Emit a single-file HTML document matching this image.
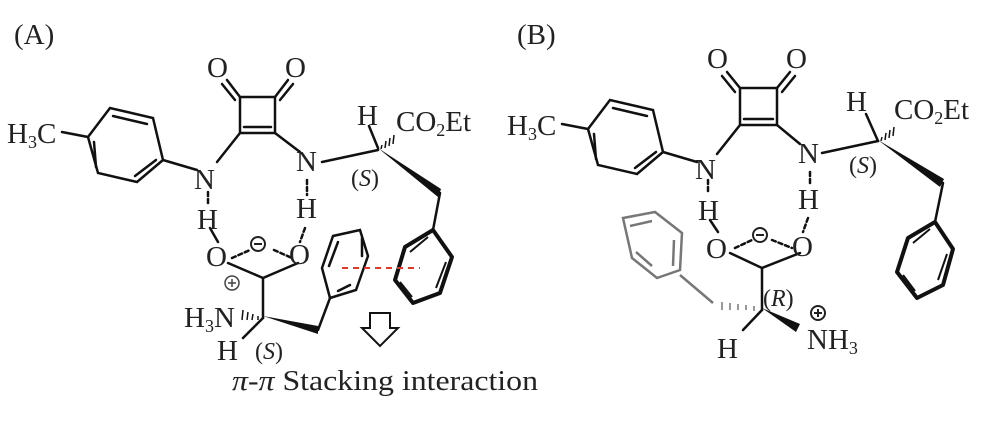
<!DOCTYPE html>
<html><head><meta charset="utf-8"><style>
html,body{margin:0;padding:0;background:#fff;}
svg{display:block;}
text{font-family:"Liberation Serif",serif;fill:#222;}
</style></head><body>
<svg width="1000" height="425" viewBox="0 0 1000 425" xmlns="http://www.w3.org/2000/svg">
<g stroke="#111" stroke-width="2.5" fill="none" stroke-linecap="round">
<path d="M240,97 L275,97 L275,133 L240,133 Z"/>
<line x1="244" y1="127" x2="271" y2="127"/>
<line x1="240" y1="97" x2="227" y2="80"/><line x1="235" y1="100" x2="222" y2="84"/>
<line x1="275" y1="97" x2="288" y2="80"/><line x1="280" y1="100" x2="293" y2="84"/>
<line x1="62" y1="132" x2="88" y2="137"/>
<path d="M88,137 L110,108 L153,118 L163,160 L137,182 L98,173 Z"/>
<line x1="113" y1="116" x2="147" y2="124"/><line x1="156" y1="160" x2="135" y2="176"/><line x1="96" y1="167" x2="94" y2="142"/>
<line x1="163" y1="160" x2="197" y2="170"/>
<line x1="217" y1="162" x2="240" y2="133"/>
<line x1="275" y1="133" x2="300" y2="152"/>
<line x1="322" y1="162" x2="378" y2="150"/>
<line x1="378" y1="148" x2="369" y2="126"/>
<line x1="208" y1="192" x2="208" y2="205" stroke-dasharray="4,3"/>
<line x1="307" y1="180" x2="307" y2="195" stroke-dasharray="4,3"/>
<line x1="210" y1="228" x2="218" y2="242"/>
<line x1="305" y1="228" x2="300" y2="242" stroke-dasharray="4,3"/>
<line x1="228" y1="263" x2="263" y2="278"/><line x1="298" y1="263" x2="263" y2="278"/>
<line x1="232" y1="258" x2="250" y2="250" stroke-dasharray="4,3"/><line x1="274" y1="250" x2="292" y2="258" stroke-dasharray="4,3"/>
<line x1="263" y1="278" x2="263" y2="318"/>
<line x1="263" y1="318" x2="243" y2="338"/>
<line x1="318" y1="330" x2="330" y2="298"/>
<path d="M330,298 L322,268 L333,236 L360,230 L368,256 L356,290 Z"/>
<line x1="329" y1="266" x2="338" y2="242"/><line x1="362" y1="238" x2="362" y2="256"/><line x1="350" y1="285" x2="338" y2="291"/>
<line x1="440" y1="193" x2="433" y2="230"/>
</g>
<g stroke="#111" stroke-width="4" fill="none" stroke-linejoin="round">
<path d="M433,230 L452,257 L440,293 L413,303 L395,280 L405,247 Z"/>
</g>
<g stroke="#111" stroke-width="2" fill="none">
<line x1="446" y1="262" x2="436" y2="288"/><line x1="412" y1="297" x2="400" y2="282"/><line x1="410" y1="252" x2="428" y2="237"/>
</g>
<polygon points="378,148 441,189 438,197" fill="#111"/>
<polygon points="263,316 318,326 318,334" fill="#111"/>
<g stroke="#111" stroke-width="1.5">
<line x1="382" y1="145" x2="381" y2="149"/><line x1="386" y1="141" x2="385" y2="148"/><line x1="390" y1="138" x2="389" y2="146"/><line x1="394" y1="135" x2="393" y2="144"/>
<line x1="258" y1="316" x2="258" y2="320"/><line x1="253" y1="314" x2="252" y2="320"/><line x1="248" y1="312" x2="247" y2="320"/><line x1="243" y1="310" x2="242" y2="320"/>
</g>
<line x1="342" y1="268" x2="420" y2="268" stroke="#e03a2a" stroke-width="2" stroke-dasharray="6,5"/>
<polygon points="370,313 390,313 390,328 398,328 380,346 362,328 370,328" fill="#fff" stroke="#111" stroke-width="2"/>
<circle cx="258" cy="244" r="7" fill="#fff" stroke="#222" stroke-width="2"/><line x1="254" y1="244" x2="262" y2="244" stroke="#222" stroke-width="2"/>
<circle cx="232" cy="283" r="7" fill="#fff" stroke="#444" stroke-width="1.5"/><line x1="228" y1="283" x2="236" y2="283" stroke="#444" stroke-width="1.5"/><line x1="232" y1="279" x2="232" y2="287" stroke="#444" stroke-width="1.5"/>
<g font-size="29">
<text x="14" y="44">(A)</text>
<text x="207" y="77">O</text><text x="285" y="77">O</text>
<text x="7" y="143">H<tspan font-size="18" dy="5">3</tspan><tspan dy="-5">C</tspan></text>
<text x="194" y="189">N</text><text x="296" y="171">N</text>
<text x="197" y="229">H</text><text x="296" y="218">H</text>
<text x="206" y="266">O</text><text x="289" y="264">O</text>
<text x="357" y="125">H</text>
<text x="396" y="131">CO<tspan font-size="18" dy="5">2</tspan><tspan dy="-5">Et</tspan></text>
<text x="351" y="186" font-size="24">(<tspan font-style="italic">S</tspan>)</text>
<text x="184" y="327">H<tspan font-size="18" dy="5">3</tspan><tspan dy="-5">N</tspan></text>
<text x="217" y="360">H</text>
<text x="255" y="359" font-size="24">(<tspan font-style="italic">S</tspan>)</text>
<text x="232" y="390" font-size="28" textLength="306" lengthAdjust="spacingAndGlyphs"><tspan font-style="italic">π</tspan>-<tspan font-style="italic">π</tspan> Stacking interaction</text>
</g>
<g stroke="#111" stroke-width="2.5" fill="none" stroke-linecap="round">
<path d="M740,88 L777,88 L777,125 L740,125 Z"/>
<line x1="744" y1="119" x2="773" y2="119"/>
<line x1="740" y1="88" x2="727" y2="72"/><line x1="735" y1="92" x2="722" y2="76"/>
<line x1="777" y1="88" x2="790" y2="72"/><line x1="782" y1="92" x2="795" y2="76"/>
<line x1="562" y1="124" x2="588" y2="129"/>
<path d="M588,129 L610,100 L653,110 L663,152 L637,174 L598,165 Z"/>
<line x1="613" y1="108" x2="647" y2="116"/><line x1="656" y1="152" x2="635" y2="168"/><line x1="596" y1="159" x2="594" y2="134"/>
<line x1="663" y1="152" x2="697" y2="162"/>
<line x1="717" y1="154" x2="740" y2="125"/>
<line x1="777" y1="125" x2="800" y2="144"/>
<line x1="822" y1="153" x2="878" y2="141"/>
<line x1="878" y1="141" x2="866" y2="114"/>
<line x1="708" y1="180" x2="708" y2="192" stroke-dasharray="4,3"/>
<line x1="810" y1="172" x2="810" y2="186" stroke-dasharray="4,3"/>
<line x1="710" y1="220" x2="718" y2="232"/>
<line x1="808" y1="218" x2="803" y2="232" stroke-dasharray="4,3"/>
<line x1="730" y1="253" x2="762" y2="268"/><line x1="800" y1="253" x2="762" y2="268"/>
<line x1="735" y1="248" x2="752" y2="240" stroke-dasharray="4,3"/><line x1="772" y1="240" x2="792" y2="248" stroke-dasharray="4,3"/>
<line x1="762" y1="268" x2="762" y2="310"/>
<line x1="762" y1="310" x2="743" y2="330"/>
<line x1="943" y1="183" x2="935" y2="222"/>
</g>
<g stroke="#777" stroke-width="2.5" fill="none">
<path d="M623,218 L655,212 L682,233 L680,270 L657,278 L632,258 Z"/>
<line x1="630" y1="226" x2="652" y2="221"/><line x1="674" y1="240" x2="673" y2="266"/><line x1="636" y1="252" x2="652" y2="266"/>
<line x1="680" y1="275" x2="713" y2="303"/>
</g>
<g stroke="#777" stroke-width="1.5">
<line x1="722" y1="302" x2="722" y2="310"/><line x1="730" y1="303" x2="730" y2="310"/><line x1="738" y1="304" x2="738" y2="310"/><line x1="746" y1="305" x2="746" y2="310"/><line x1="754" y1="306" x2="754" y2="311"/>
</g>
<g stroke="#111" stroke-width="4" fill="none" stroke-linejoin="round">
<path d="M935,222 L953,249 L943,285 L917,298 L897,272 L908,238 Z"/>
</g>
<g stroke="#111" stroke-width="2" fill="none">
<line x1="947" y1="254" x2="938" y2="280"/><line x1="915" y1="291" x2="903" y2="275"/><line x1="913" y1="243" x2="930" y2="229"/>
</g>
<polygon points="878,140 944,179 940,187" fill="#111"/>
<polygon points="762,308 800,324 796,332" fill="#111"/>
<g stroke="#111" stroke-width="1.5">
<line x1="882" y1="137" x2="881" y2="141"/><line x1="886" y1="133" x2="885" y2="140"/><line x1="890" y1="130" x2="889" y2="138"/><line x1="894" y1="127" x2="893" y2="136"/>
</g>
<circle cx="760" cy="235" r="7" fill="#fff" stroke="#222" stroke-width="2"/><line x1="756" y1="235" x2="764" y2="235" stroke="#222" stroke-width="2"/>
<circle cx="818" cy="313" r="7" fill="#fff" stroke="#222" stroke-width="2"/><line x1="814" y1="313" x2="822" y2="313" stroke="#222" stroke-width="2"/><line x1="818" y1="309" x2="818" y2="317" stroke="#222" stroke-width="2"/>
<g font-size="29">
<text x="517" y="44">(B)</text>
<text x="707" y="68">O</text><text x="786" y="68">O</text>
<text x="507" y="135">H<tspan font-size="18" dy="5">3</tspan><tspan dy="-5">C</tspan></text>
<text x="695" y="179">N</text><text x="798" y="163">N</text>
<text x="698" y="220">H</text><text x="798" y="209">H</text>
<text x="706" y="258">O</text><text x="792" y="256">O</text>
<text x="846" y="111">H</text>
<text x="894" y="119">CO<tspan font-size="18" dy="5">2</tspan><tspan dy="-5">Et</tspan></text>
<text x="849" y="173" font-size="24">(<tspan font-style="italic">S</tspan>)</text>
<text x="763" y="306" font-size="24">(<tspan font-style="italic">R</tspan>)</text>
<text x="807" y="349">NH<tspan font-size="18" dy="5">3</tspan></text>
<text x="717" y="358">H</text>
</g>
</svg>
</body></html>
